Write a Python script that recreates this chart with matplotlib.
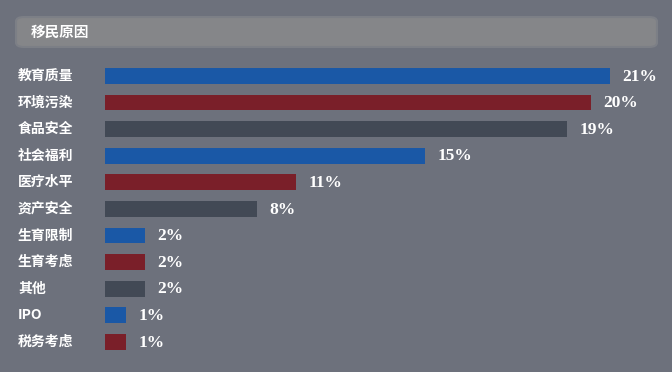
import matplotlib.pyplot as plt
import matplotlib.transforms as mtransforms
from matplotlib.patches import FancyBboxPatch

plt.rcParams['font.family'] = ['Noto Sans CJK SC', 'DejaVu Sans']

# Data
categories = ['教育质量', '环境污染', '食品安全', '社会福利', '医疗水平', '资产安全',
              '生育限制', '生育考虑', '其他', 'IPO', '税务考虑']
labels = ['21%', '20%', '19%', '15%', '11%', '8%', '2%', '2%', '2%', '1%', '1%']
# drawn bar lengths (the original chart does not scale bars strictly to the labels)
bar_share = [21, 20.2, 19.2, 13.3, 7.95, 6.3, 1.67, 1.67, 1.67, 0.88, 0.88]
colors = ['#1a58a6', '#7a1f29', '#424955'] * 4

BG = '#6d717c'
fig = plt.figure(figsize=(6.72, 3.72), dpi=100, facecolor=BG)

# title bar
title_box = FancyBboxPatch((16 / 672, 1 - 47 / 372), 641 / 672, 30 / 372,
                           boxstyle='round,pad=0,rounding_size=0.012',
                           transform=fig.transFigure, facecolor='#858689',
                           edgecolor='#7c7f86', linewidth=1.5)
fig.patches.append(title_box)
fig.text(31 / 672, 1 - 32 / 372, '移民原因', color='white', fontsize=10.5,
         fontweight='bold', va='center', ha='left')

ax = fig.add_axes([105 / 672, 16 / 372, 567 / 672, 295 / 372])
ax.set_facecolor(BG)
y = list(range(len(categories)))
ax.barh(y, bar_share, height=0.6, color=colors[:len(categories)])
ax.set_xlim(0, 21 * 567 / 505)
ax.set_ylim(10.53, -0.56)
ax.axis('off')

trans = mtransforms.blended_transform_factory(fig.transFigure, ax.transData)
for yi, cat in zip(y, categories):
    ax.text(18 / 672, yi, cat, transform=trans, color='white', fontsize=10,
            fontweight='bold', va='center', ha='left')

for yi, v, lab in zip(y, bar_share, labels):
    ax.annotate(lab, (v, yi), xytext=(9, -0.5), textcoords='offset points',
                color='white', fontsize=12.5, fontweight='bold',
                family=['Liberation Serif', 'DejaVu Serif'], va='center', ha='left')

fig.savefig('out.png', dpi=100, facecolor=BG)
